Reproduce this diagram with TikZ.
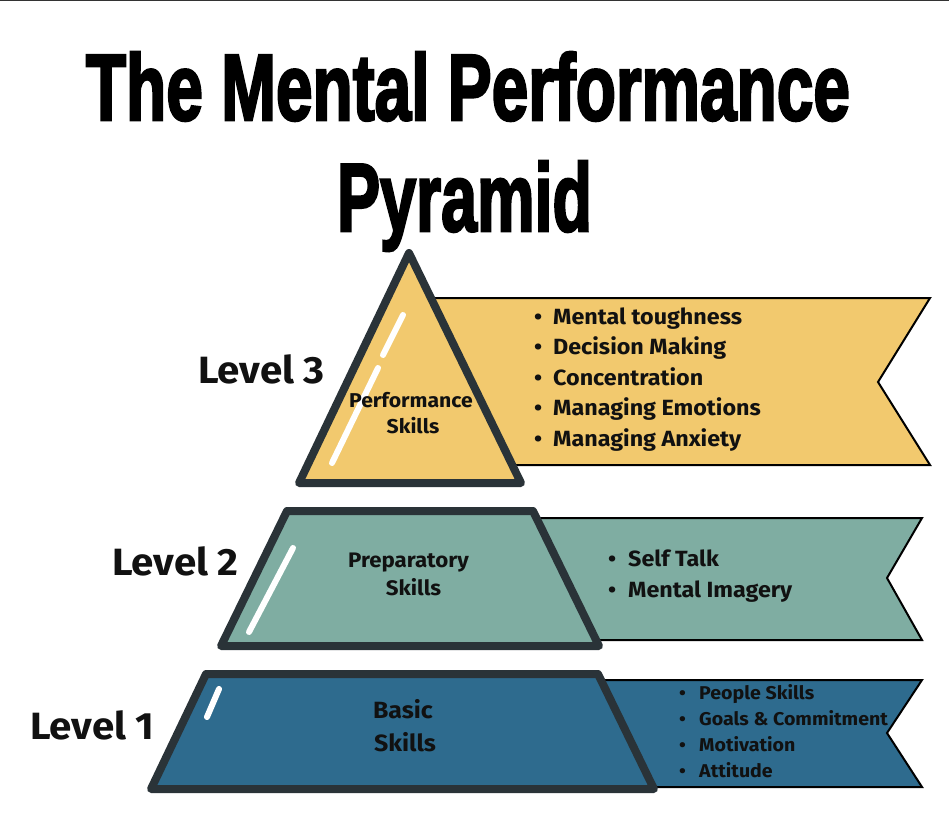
\documentclass[tikz,border=0pt]{standalone}
\usepackage{fontspec}
\usepackage{graphicx}
\setmainfont{Fira Sans}[FakeStretch=1.06]
\newfontfamily\titlefont[BoldFeatures={FakeBold=3}]{Liberation Sans}
\definecolor{ylw}{HTML}{F2C96E}
\definecolor{teal2}{HTML}{7FADA2}
\definecolor{blu}{HTML}{2E6B8E}
\definecolor{dark}{HTML}{2A3338}
\definecolor{ink}{HTML}{111111}
\tikzset{
  level/.style={draw=dark, line width=8pt, line join=round},
  banner/.style={draw=black, line width=2pt, line join=miter},
  shine/.style={draw=white, line width=6pt, line cap=round},
  txt/.style={inner sep=0pt, text=ink, font=\bfseries},
  bul/.style={txt, anchor=base west},
  lab/.style={txt, anchor=base},
}
\begin{document}
\begin{tikzpicture}[x=1pt,y=-1pt]
\useasboundingbox (0,0) rectangle (949,829);
\fill[white] (0,0) rectangle (949,829);
\draw[line width=1.5pt, color=black!80] (0,0.75) -- (949,0.75);
% title
\node[anchor=base, inner sep=0pt] (title1) at (468,120) {\resizebox{764pt}{68pt}{\titlefont\bfseries The Mental Performance}};
\node[anchor=base, inner sep=0pt] (title2) at (464.5,231) {\resizebox{255pt}{70pt}{\titlefont\bfseries Pyramid}};
% banners
\draw[banner, fill=ylw] (425,298) -- (930,298) -- (878,382) -- (930,465) -- (425,465) -- cycle;
\draw[banner, fill=teal2] (535,518) -- (922,518) -- (887,578) -- (922,640) -- (535,640) -- cycle;
\draw[banner, fill=blu] (600,680) -- (922,680) -- (887,733) -- (922,787) -- (600,787) -- cycle;
% pyramid levels
\draw[level, fill=ylw] (409,253) -- (521,483) -- (299,483) -- cycle;
\draw[level, fill=teal2] (287,511) -- (533,511) -- (599,646) -- (221,646) -- cycle;
\draw[level, fill=blu] (206,674) -- (598,674) -- (654,789) -- (151,789) -- cycle;
% highlights
\draw[shine] (403,315) -- (383,355);
\draw[shine] (378,368) -- (332,463);
\draw[shine] (293,548) -- (249,632);
\draw[shine] (219,689) -- (207,717);
% level labels
\node[bul, font=\fontsize{38}{38}\selectfont\bfseries] (lv3) at (198,383) {Level 3};
\node[bul, font=\fontsize{38}{38}\selectfont\bfseries] (lv2) at (112,575) {Level 2};
\node[bul, font=\fontsize{38}{38}\selectfont\bfseries] (lv1) at (30,739) {Level 1};
% pyramid labels
\node[lab, font=\fontsize{20}{20}\selectfont\bfseries] (p3a) at (411,407) {Performance};
\node[lab, font=\fontsize{20}{20}\selectfont\bfseries] (p3b) at (413,433) {Skills};
\node[lab, font=\fontsize{21}{21}\selectfont\bfseries] (p2a) at (408.5,567) {Preparatory};
\node[lab, font=\fontsize{21}{21}\selectfont\bfseries] (p2b) at (413.5,595) {Skills};
\node[lab, font=\fontsize{23.5}{23.5}\selectfont\bfseries] (p1a) at (403,718) {Basic};
\node[lab, font=\fontsize{23.5}{23.5}\selectfont\bfseries] (p1b) at (405,751) {Skills};
% bullets
\foreach \t [count=\i] in {Mental toughness, Decision Making, Concentration, Managing Emotions, Managing Anxiety}
  \node[bul, font=\fontsize{22}{22}\selectfont\bfseries] (y\i) at (534,{324+30.5*(\i-1)}) {\makebox[19pt][l]{\textbullet}\t};
\foreach \t [count=\i] in {Self Talk, Mental Imagery}
  \node[bul, font=\fontsize{22}{22}\selectfont\bfseries] (g\i) at (608,{566+31*(\i-1)}) {\makebox[20pt][l]{\textbullet}\t};
\foreach \t [count=\i] in {People Skills, Goals \& Commitment, Motivation, Attitude}
  \node[bul, font=\fontsize{18.5}{18.5}\selectfont\bfseries] (b\i) at (679,{699+26*(\i-1)}) {\makebox[20pt][l]{\textbullet}\t};
\end{tikzpicture}
\end{document}
